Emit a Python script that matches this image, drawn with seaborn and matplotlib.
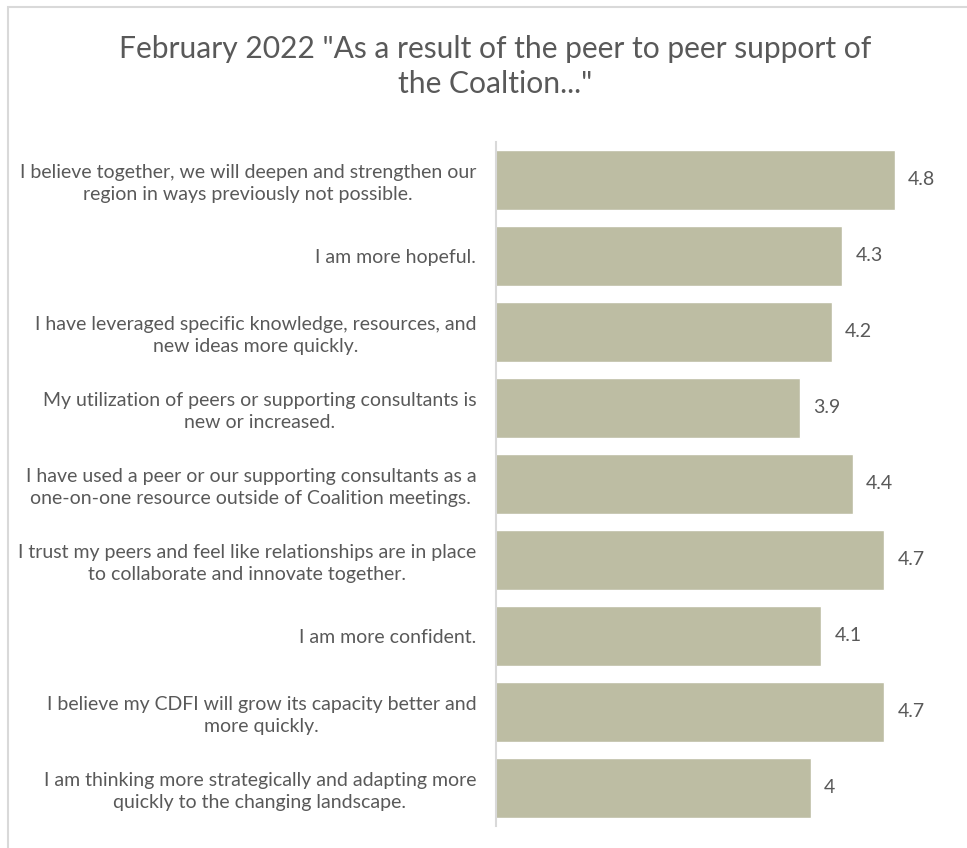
import matplotlib
matplotlib.use("Agg")
import matplotlib.pyplot as plt
from matplotlib.patches import Rectangle
import seaborn as sns
import pandas as pd

statements = [
    "I believe together, we will deepen and strengthen our\nregion in ways previously not possible.",
    "I am more hopeful.",
    "I have leveraged specific knowledge, resources, and\nnew ideas more quickly.",
    "My utilization of peers or supporting consultants is\nnew or increased.",
    "I have used a peer or our supporting consultants as a\none-on-one resource outside of Coalition meetings.",
    "I trust my peers and feel like relationships are in place\nto collaborate and innovate together.",
    "I am more confident.",
    "I believe my CDFI will grow its capacity better and\nmore quickly.",
    "I am thinking more strategically and adapting more\nquickly to the changing landscape.",
]
scores = [4.8, 4.3, 4.2, 3.9, 4.4, 4.7, 4.1, 4.7, 4.0]
title = 'February 2022 "As a result of the peer to peer support of\nthe Coaltion..."'

df = pd.DataFrame({"statement": statements, "score": scores})

sns.set_theme(style="white")
plt.rcParams["font.family"] = ["Lato", "DejaVu Sans"]

TEXT = "#595959"
BAR = "#BDBDA3"
GRID = "#D9D9D9"

fig = plt.figure(figsize=(9.67, 8.48), dpi=100)
ax = fig.add_axes([0.5126, 0.0263, 0.947 - 0.5126, 0.8329 - 0.0263])

sns.barplot(data=df, x="score", y="statement", orient="h", color=BAR,
            saturation=1, width=0.79, ax=ax)

ax.set_xlim(1, 5)
ax.set_ylim(8.5, -0.5)
ax.set_xlabel("")
ax.set_ylabel("")
ax.set_xticks([])
for side in ("top", "right", "bottom"):
    ax.spines[side].set_visible(False)
ax.spines["left"].set_color(GRID)
ax.spines["left"].set_linewidth(1.5)
ax.tick_params(axis="y", length=0, pad=14, labelsize=14, labelcolor=TEXT)
for lbl in ax.get_yticklabels():
    lbl.set_multialignment("center")
    lbl.set_linespacing(1.35)

ax.bar_label(ax.containers[0], labels=[f"{v:g}" for v in scores],
             padding=9.5, fontsize=14, color=TEXT)

fig.text(0.512, 0.922, title, ha="center", va="center", fontsize=21.6,
         color=TEXT, linespacing=1.3)

fig.patches.append(Rectangle((8 / 967, -0.1), 1.2, (848 - 7) / 848 + 0.1,
                             transform=fig.transFigure, fill=False,
                             edgecolor=GRID, linewidth=1.5, clip_on=False))

fig.savefig("out.png", dpi=100)
